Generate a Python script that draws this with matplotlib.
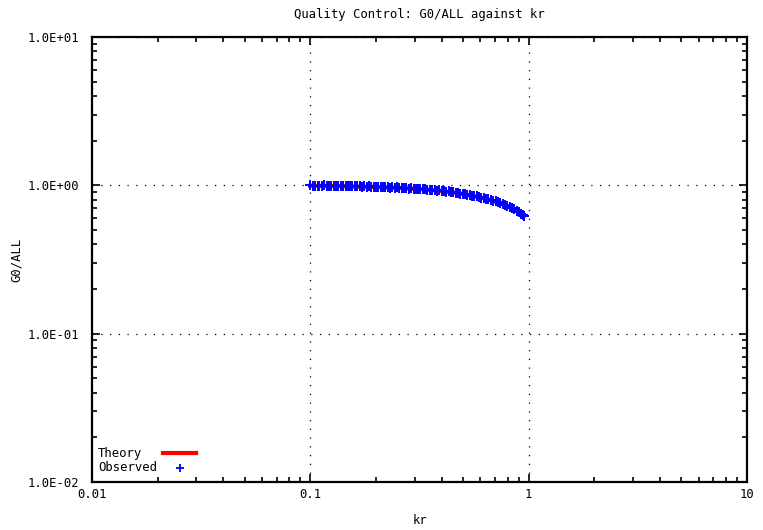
import matplotlib
matplotlib.use("Agg")
import matplotlib.pyplot as plt
from matplotlib.ticker import FixedLocator, FixedFormatter, LogLocator, NullFormatter

# Theory curve
kr_theory = [0.10, 0.15, 0.20, 0.25, 0.30, 0.35, 0.40, 0.45, 0.50, 0.55,
             0.60, 0.65, 0.70, 0.75, 0.80, 0.85, 0.90, 0.95]
g0_theory = [0.995, 0.985, 0.975, 0.962, 0.948, 0.932, 0.915, 0.895, 0.873, 0.851,
             0.828, 0.804, 0.780, 0.752, 0.722, 0.690, 0.656, 0.618]

# Observed points
kr_obs = [0.100, 0.103, 0.105, 0.108, 0.110, 0.113, 0.116, 0.119, 0.122, 0.125,
          0.128, 0.131, 0.134, 0.138, 0.141, 0.145, 0.148, 0.152, 0.156, 0.160,
          0.164, 0.168, 0.172, 0.176, 0.181, 0.185, 0.190, 0.195, 0.200, 0.205,
          0.210, 0.215, 0.220, 0.226, 0.232, 0.237, 0.243, 0.249, 0.256, 0.262,
          0.269, 0.275, 0.282, 0.289, 0.297, 0.304, 0.312, 0.319, 0.327, 0.336,
          0.344, 0.353, 0.361, 0.371, 0.380, 0.389, 0.399, 0.409, 0.419, 0.430,
          0.441, 0.452, 0.463, 0.475, 0.486, 0.499, 0.511, 0.524, 0.537, 0.550,
          0.564, 0.578, 0.593, 0.608, 0.623, 0.638, 0.654, 0.671, 0.687, 0.705,
          0.722, 0.740, 0.759, 0.778, 0.797, 0.817, 0.838, 0.859, 0.880, 0.902,
          0.925, 0.940, 0.950]
g0_obs = [0.998, 0.992, 0.997, 0.990, 0.996, 0.993, 0.999, 0.989, 0.994, 0.991,
          0.996, 0.987, 0.993, 0.990, 0.995, 0.986, 0.991, 0.988, 0.993, 0.984,
          0.989, 0.986, 0.982, 0.988, 0.980, 0.985, 0.977, 0.982, 0.975, 0.979,
          0.971, 0.976, 0.969, 0.973, 0.965, 0.970, 0.962, 0.967, 0.958, 0.963,
          0.955, 0.960, 0.951, 0.956, 0.946, 0.950, 0.942, 0.947, 0.938, 0.942,
          0.933, 0.937, 0.928, 0.931, 0.922, 0.926, 0.915, 0.918, 0.908, 0.911,
          0.899, 0.903, 0.890, 0.893, 0.880, 0.876, 0.869, 0.866, 0.856, 0.853,
          0.843, 0.841, 0.830, 0.826, 0.817, 0.813, 0.803, 0.797, 0.788, 0.780,
          0.770, 0.762, 0.749, 0.741, 0.728, 0.717, 0.703, 0.690, 0.675, 0.657,
          0.640, 0.627, 0.617]

x_ticks = [0.01, 0.1, 1, 10]
x_tick_labels = ["0.01", "0.1", "1", "10"]
y_ticks = [0.01, 0.1, 1, 10]
y_tick_labels = ["1.0E-02", "1.0E-01", "1.0E+00", "1.0E+01"]

plt.rcParams["font.family"] = ["DejaVu Sans Mono", "DejaVu Sans"]
plt.rcParams["font.size"] = 8.8

fig = plt.figure(figsize=(7.63, 5.30), dpi=100)
ax = fig.add_axes([92 / 763, 1 - 482 / 530, 655 / 763, 445 / 530])

ax.set_xscale("log")
ax.set_yscale("log")
ax.set_xlim(0.01, 10)
ax.set_ylim(0.01, 10)

ax.plot(kr_theory, g0_theory, color="#ff0000", lw=3, zorder=3)
ax.plot(kr_obs, g0_obs, linestyle="none", marker="+", ms=7, mew=1.4,
        color="#0000ff", zorder=4)

ax.xaxis.set_major_locator(FixedLocator(x_ticks))
ax.xaxis.set_major_formatter(FixedFormatter(x_tick_labels))
ax.yaxis.set_major_locator(FixedLocator(y_ticks))
ax.yaxis.set_major_formatter(FixedFormatter(y_tick_labels))
ax.xaxis.set_minor_locator(LogLocator(base=10, subs=range(2, 10)))
ax.yaxis.set_minor_locator(LogLocator(base=10, subs=range(2, 10)))
ax.xaxis.set_minor_formatter(NullFormatter())
ax.yaxis.set_minor_formatter(NullFormatter())

ax.tick_params(which="both", direction="in", top=True, right=True, width=1.2,
               colors="black")
ax.tick_params(which="major", length=6)
ax.tick_params(which="minor", length=3.5)
ax.tick_params(axis="x", which="major", pad=4)
ax.tick_params(axis="y", which="major", pad=9)

ax.grid(True, which="major", color="black", linestyle=(0, (1, 6)), lw=0.9)

for s in ax.spines.values():
    s.set_linewidth(1.6)

ax.set_title("Quality Control: G0/ALL against kr", pad=14, fontsize=8.8)
ax.set_xlabel("kr")
ax.xaxis.set_label_coords(0.5, -0.072)
ax.set_ylabel("G0/ALL")
ax.yaxis.set_label_coords(-0.105, 0.5)

# Key in the lower-left corner: label first, sample after it
key_tr = ax.transAxes
ax.text(0.009, 0.065, "Theory", transform=key_tr, ha="left", va="center")
ax.plot([0.108, 0.159], [0.065, 0.065], transform=key_tr, color="#ff0000",
        lw=3, clip_on=False)
ax.text(0.009, 0.0315, "Observed", transform=key_tr, ha="left", va="center")
ax.plot([0.134], [0.0315], transform=key_tr, linestyle="none", marker="+",
        ms=6, mew=1.3, color="#0000ff", clip_on=False)

fig.savefig("out.png", dpi=100)
